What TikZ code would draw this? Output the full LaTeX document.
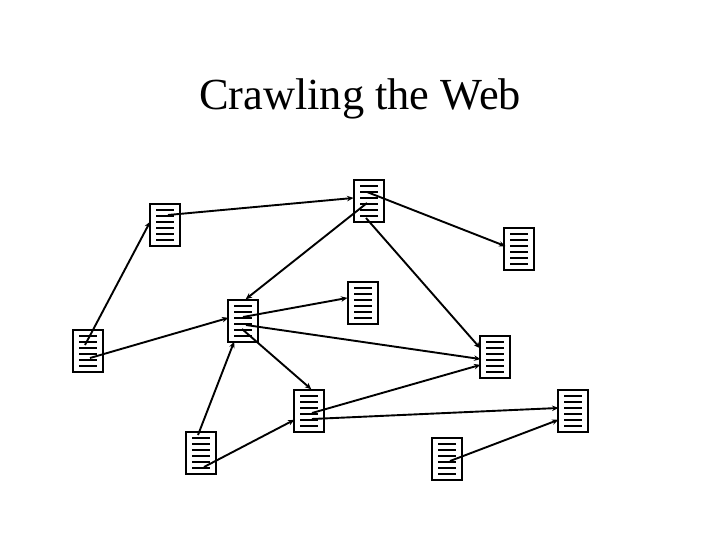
\documentclass[tikz,border=0pt]{standalone}
\usepackage{fontspec}
\setmainfont{Liberation Serif}
\usetikzlibrary{arrows.meta}
\tikzset{
  docbox/.style={draw=black,fill=white,line width=2.2pt,minimum width=30pt,minimum height=42pt,inner sep=0pt,outer sep=0pt},
  textline/.style={black,line width=1.9pt},
  link/.style={black,line width=1.9pt,-{Stealth[length=6.5pt,width=5.5pt]},shorten >=-0.5pt},
  title/.style={font=\fontsize{44.4}{44.4}\selectfont,text=black,inner sep=0pt,anchor=base}
}
\newcommand{\docnode}[3]{%
  \node[docbox] (#1) at (#2,#3) {};
  \foreach \k in {-15,-9,-3,3,9,15}
    \draw[textline] ([shift={(-9,\k)}]#1.center) -- ([shift={(9,\k)}]#1.center);
}
\newcommand{\linkfrom}[6]{%
  \draw[link] ([shift={(#2,#3)}]#1.center) -- ([shift={(#5,#6)}]#4.center);
}
\begin{document}
\begin{tikzpicture}[x=1pt,y=-1pt]
\useasboundingbox (0,0) rectangle (720,540);
\node[title] (heading) at (360,110) {Crawling the Web};
\docnode{a}{165}{225}
\docnode{b}{369}{201}
\docnode{c}{519}{249}
\docnode{d}{363}{303}
\docnode{e}{243}{321}
\docnode{f}{88}{351}
\docnode{g}{495}{357}
\docnode{h}{309}{411}
\docnode{i}{573}{411}
\docnode{j}{201}{453}
\docnode{k}{447}{459}
\linkfrom{f}{-3}{-6}{a}{-15}{-3}
\linkfrom{a}{3}{-10}{b}{-16}{-3}
\linkfrom{b}{-2}{2}{e}{3}{-22}
\linkfrom{b}{-2}{-9}{c}{-14}{-3}
\linkfrom{b}{-3}{17}{g}{-15}{-9}
\linkfrom{e}{0}{-4}{d}{-16}{-5}
\linkfrom{e}{3}{4}{g}{-15}{2}
\linkfrom{e}{-1}{8}{h}{2}{-22}
\linkfrom{f}{2}{7}{e}{-15}{-3}
\linkfrom{j}{-3}{-18}{e}{-9}{21}
\linkfrom{j}{3}{14}{h}{-15}{9}
\linkfrom{h}{3}{2}{g}{-15}{8}
\linkfrom{h}{3}{8}{i}{-15}{-3}
\linkfrom{k}{3}{2}{i}{-15}{9}
\end{tikzpicture}
\end{document}
